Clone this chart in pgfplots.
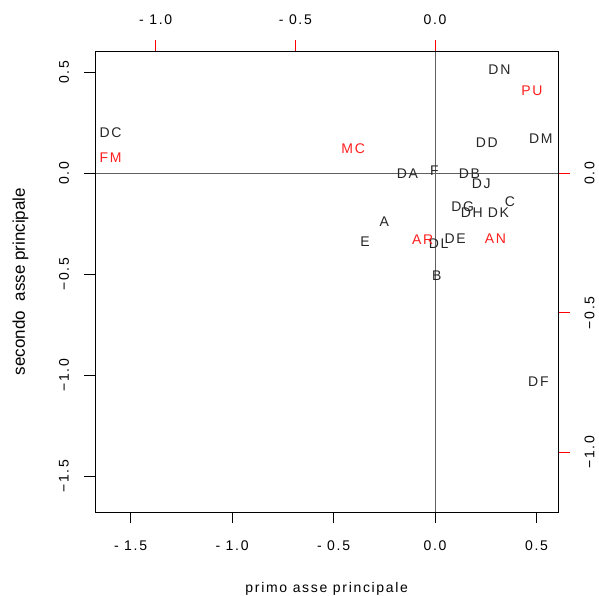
\documentclass[border=0pt]{standalone}
\usepackage{fontspec}
\setmainfont{Liberation Sans}[LetterSpace=12]
\newfontfamily\plainfont{Liberation Sans}
\usepackage{pgfplots}
\pgfplotsset{compat=1.18}
\definecolor{zeroline}{RGB}{96,96,96}
\definecolor{lblred}{RGB}{255,30,30}
\begin{document}
\begin{tikzpicture}[font=\fontsize{14}{16}\selectfont]
\useasboundingbox (-95pt,-84pt) rectangle (504pt,512pt);
% ---- row axis (bottom / left scale) ----
\begin{axis}[at={(0pt,0pt)}, anchor=south west, scale only axis,
  width=463.5pt, height=461pt,
  xmin=-1.675, xmax=0.608, ymin=-1.676, ymax=0.606,
  xtick={-1.5,-1,-0.5,0,0.5}, ytick={-1.5,-1,-0.5,0,0.5},
  xtick pos=bottom, ytick pos=left, tick align=outside,
  major tick length=11pt, tick style={black, line width=0.8pt},
  xticklabels={}, yticklabels={},
  axis line style={black, line width=0.8pt}, clip=false]
\addplot[zeroline, line width=0.9pt] coordinates {(0,-1.676) (0,0.606)};
\addplot[zeroline, line width=0.9pt] coordinates {(-1.675,0) (0.608,0)};
\addplot[only marks, mark=*, mark size=0pt, mark options={draw=none, fill=none},
  nodes near coords, point meta=explicit symbolic, nodes near coords align=center,
  every node near coord/.append style={anchor=center, inner sep=0pt, text=black!85}]
  table[meta=lab] {
x y lab
0.317 0.512 DN
0.255 0.150 DD
0.521 0.174 DM
-1.598 0.202 DC
-0.136 0.001 DA
-0.003 0.014 F
0.169 0.001 DB
0.227 -0.053 DJ
0.369 -0.140 C
0.136 -0.164 DG
0.181 -0.192 DH
0.312 -0.192 DK
-0.250 -0.239 A
-0.345 -0.338 E
0.018 -0.349 DL
0.099 -0.324 DE
0.008 -0.506 B
0.509 -1.029 DF
};
% tick labels
\node at ([yshift=-33.7pt]axis cs:-1.5,-1.676) {- 1.5};
\node at ([yshift=-33.7pt]axis cs:-1.0,-1.676) {- 1.0};
\node at ([yshift=-33.7pt]axis cs:-0.5,-1.676) {- 0.5};
\node at ([yshift=-33.7pt]axis cs:0,-1.676) {0.0};
\node at ([yshift=-33.7pt]axis cs:0.5,-1.676) {0.5};
\node[rotate=90] at ([xshift=-31pt]axis cs:-1.675,0.5) {0.5};
\node[rotate=90] at ([xshift=-31pt]axis cs:-1.675,0) {0.0};
\node[rotate=90] at ([xshift=-31pt]axis cs:-1.675,-0.5) {−0.5};
\node[rotate=90] at ([xshift=-31pt]axis cs:-1.675,-1.0) {−1.0};
\node[rotate=90] at ([xshift=-31pt]axis cs:-1.675,-1.5) {−1.5};
\node[anchor=base] at ([yshift=-80pt]rel axis cs:0.5,0) {primo asse principale};
\node[rotate=90, anchor=base, font=\plainfont\fontsize{17}{19}\selectfont]
  at ([xshift=-70pt]rel axis cs:0,0.5) {secondo\ \ asse principale};
\end{axis}
% ---- column axis (top / right scale, red) ----
\begin{axis}[at={(0pt,0pt)}, anchor=south west, scale only axis,
  width=463.5pt, height=461pt,
  xmin=-1.217, xmax=0.442, ymin=-1.215, ymax=0.440,
  xtick={-1,-0.5,0}, ytick={-1,-0.5,0},
  xtick pos=top, ytick pos=right, tick align=outside,
  major tick length=11pt, tick style={red, line width=0.8pt},
  xticklabels={}, yticklabels={},
  axis line style={black, line width=0.8pt}, clip=false]
\addplot[only marks, mark=*, mark size=0pt, mark options={draw=none, fill=none},
  nodes near coords, point meta=explicit symbolic, nodes near coords align=center,
  every node near coord/.append style={anchor=center, inner sep=0pt, text=lblred}]
  table[meta=lab] {
x y lab
0.347 0.296 PU
-1.161 0.057 FM
-0.293 0.090 MC
-0.044 -0.236 AR
0.216 -0.233 AN
};
\node at ([yshift=31pt]axis cs:-1,0.440) {- 1.0};
\node at ([yshift=31pt]axis cs:-0.5,0.440) {- 0.5};
\node at ([yshift=31pt]axis cs:0,0.440) {0.0};
\node[rotate=90] at ([xshift=31pt]axis cs:0.442,0) {0.0};
\node[rotate=90] at ([xshift=31pt]axis cs:0.442,-0.5) {−0.5};
\node[rotate=90] at ([xshift=31pt]axis cs:0.442,-1.0) {−1.0};
\end{axis}
\end{tikzpicture}
\end{document}
